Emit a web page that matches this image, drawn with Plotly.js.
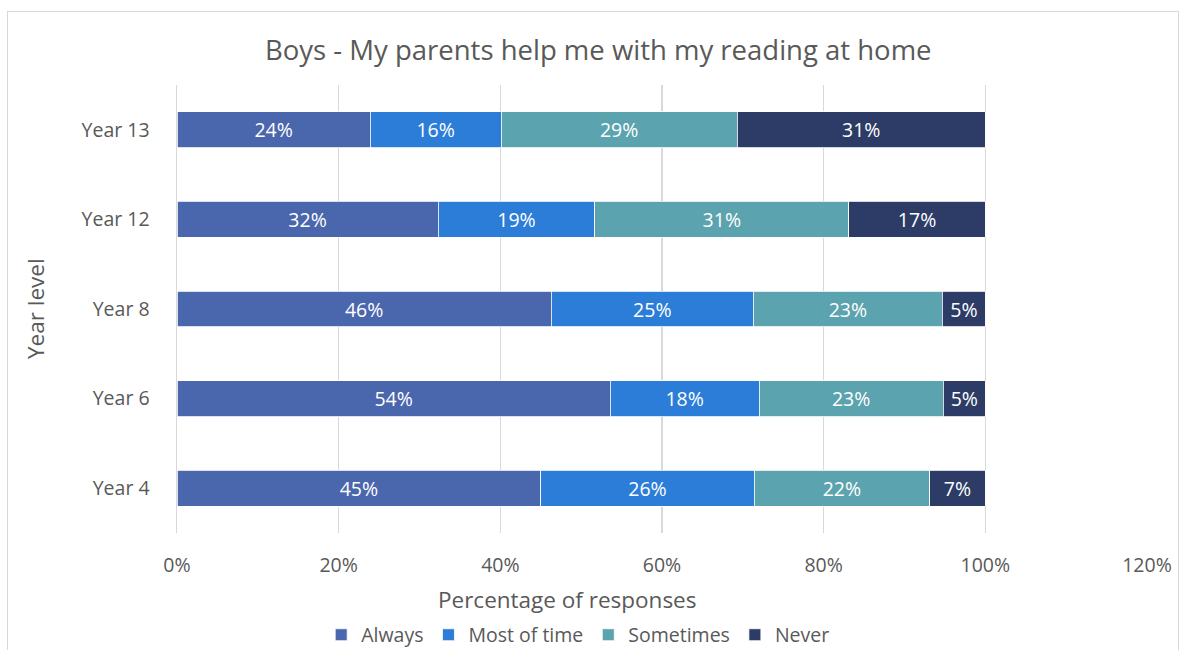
<!DOCTYPE html>
<html>
<head>
<meta charset="utf-8">
<script src="https://cdn.plot.ly/plotly-3.0.1.min.js"></script>
<style>
body{margin:0;padding:0;background:#fff;}
#wrap{position:relative;width:1180px;height:650px;}
#chart{width:1180px;height:650px;}
#frame{position:absolute;left:7px;top:11px;width:1170px;height:660px;border:1px solid #d9d9d9;pointer-events:none;}
</style>
</head>
<body>
<div id="wrap"><div id="chart"></div><div id="frame"></div></div>
<script>
var categories = ["Year 4", "Year 6", "Year 8", "Year 12", "Year 13"];
var always     = [45.0, 53.6, 46.3, 32.3, 23.9];
var mostOfTime = [26.4, 18.4, 25.0, 19.4, 16.2];
var sometimes  = [21.7, 22.8, 23.4, 31.4, 29.2];
var never      = [6.9, 5.2, 5.3, 16.9, 30.7];
var seriesNames = ["Always", "Most of time", "Sometimes", "Never"];
var seriesColors = ["#4A66AC", "#2B7DD8", "#5BA3AE", "#2C3C66"];
var xTicks = [0, 20, 40, 60, 80, 100, 120];

var FONT = "Open Sans, sans-serif";
var seriesData = [always, mostOfTime, sometimes, never];
var traces = seriesData.map(function(vals, i){
  return {
    type: "bar",
    orientation: "h",
    name: seriesNames[i],
    y: categories,
    x: vals,
    marker: {color: seriesColors[i], line: {color: "#ffffff", width: 0.8}},
    text: vals.map(function(v){ return Math.round(v) + "%"; }),
    textposition: "inside",
    insidetextanchor: "middle",
    constraintext: "none",
    textfont: {family: FONT, size: 19.5, color: "#ffffff"},
    hoverinfo: "name+x"
  };
});

var layout = {
  width: 1180, height: 650,
  barmode: "stack",
  bargap: 0.6,
  paper_bgcolor: "#ffffff",
  plot_bgcolor: "#ffffff",
  margin: {l: 177, r: 33, t: 85, b: 117},
  font: {family: FONT, color: "#595959"},
  title: {text: "Boys - My parents help me with my reading at home", font: {family: FONT, size: 27.5, color: "#595959"}, xref: "container", x: 0.507, xanchor: "center", yref: "container", y: 0.922, yanchor: "middle"},
  xaxis: {
    range: [0, 120], tickvals: xTicks, ticktext: xTicks.map(function(t){return t + "%";}),
    showgrid: true, gridcolor: "#d9d9d9", gridwidth: 1.5, zeroline: false, showline: false,
    ticks: "outside", ticklen: 15, tickcolor: "rgba(0,0,0,0)",
    tickfont: {family: FONT, size: 19.5, color: "#595959"}, fixedrange: true
  },
  yaxis: {
    categoryorder: "array", categoryarray: categories, range: [-0.5, 4.5],
    showgrid: false, zeroline: false, showline: true, linecolor: "#d9d9d9", linewidth: 1.5,
    ticks: "outside", ticklen: 22, tickcolor: "rgba(0,0,0,0)",
    tickfont: {family: FONT, size: 19.5, color: "#595959"}, fixedrange: true
  },
  annotations: [
    {text: "Percentage of responses", xref: "paper", yref: "paper", x: (567 - 177) / 970, y: 1 - (599 - 85) / 448, xanchor: "center", yanchor: "middle", showarrow: false, font: {family: FONT, size: 22.5, color: "#595959"}},
    {text: "Year level", xref: "paper", yref: "paper", x: (35 - 177) / 970, y: 0.5, xanchor: "center", yanchor: "middle", textangle: -90, showarrow: false, font: {family: FONT, size: 22.5, color: "#595959"}}
  ],
  legend: {orientation: "h", xref: "container", yref: "container", x: 0.49, xanchor: "center", y: 0.023, yanchor: "middle", font: {family: FONT, size: 19.5, color: "#595959"}, traceorder: "normal", itemwidth: 30, tracegroupgap: 0},
  showlegend: true
};

Plotly.newPlot("chart", traces, layout, {displayModeBar: false, staticPlot: true});
</script>
</body>
</html>
